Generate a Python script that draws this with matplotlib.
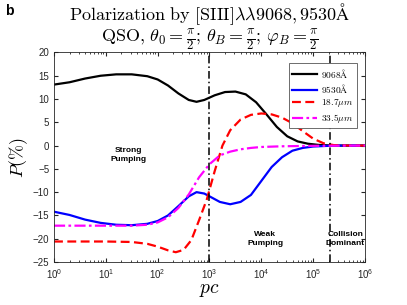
import matplotlib
matplotlib.use('Agg')
import matplotlib.pyplot as plt
import numpy as np

plt.rcParams['font.family'] = ['Liberation Sans', 'DejaVu Sans']
plt.rcParams['mathtext.fontset'] = 'cm'

# log10(pc) grid where values were read, plus P(%) for each line
log_pc_black = [0, 0.3, 0.6, 0.9, 1.2, 1.5, 1.8, 2.0, 2.2, 2.4, 2.6, 2.75, 2.9, 3.1, 3.3,
                3.5, 3.7, 3.9, 4.1, 4.3, 4.5, 4.7, 4.9, 5.1, 5.3, 5.6, 6.0]
p_9068 = [13.1, 13.6, 14.4, 15.0, 15.3, 15.3, 14.9, 14.2, 12.9, 11.2, 9.8, 9.4, 9.8, 10.8, 11.5,
          11.6, 11.0, 9.3, 6.7, 4.0, 2.0, 0.9, 0.4, 0.15, 0.05, 0.0, 0.0]

log_pc_blue = [0, 0.3, 0.6, 0.9, 1.2, 1.5, 1.8, 2.0, 2.2, 2.4, 2.6, 2.75, 2.9, 3.05, 3.2,
               3.4, 3.6, 3.8, 4.0, 4.2, 4.4, 4.6, 4.8, 5.0, 5.3, 5.6, 6.0]
p_9530 = [-14.2, -14.9, -15.9, -16.6, -17.0, -17.1, -16.8, -16.2, -15.0, -13.0, -10.9, -10.0,
          -10.3, -11.2, -12.1, -12.6, -12.1, -10.6, -7.6, -4.6, -2.5, -1.1, -0.5, -0.2, -0.05, 0.0, 0.0]

log_pc_red = [0, 0.5, 1.0, 1.5, 1.8, 2.0, 2.2, 2.35, 2.5, 2.65, 2.8, 2.95, 3.1, 3.25, 3.4,
              3.6, 3.8, 4.0, 4.2, 4.4, 4.6, 4.8, 5.0, 5.2, 5.4, 5.7, 6.0]
p_187 = [-20.6, -20.6, -20.6, -20.7, -21.1, -21.7, -22.5, -22.9, -22.4, -20.3, -16.0, -11.5,
         -5.5, 0.0, 3.3, 5.6, 6.6, 6.9, 6.7, 6.0, 4.8, 3.1, 1.5, 0.5, 0.1, 0.0, 0.0]

log_pc_mag = [0, 0.5, 1.0, 1.5, 1.8, 2.0, 2.2, 2.4, 2.6, 2.8, 3.0, 3.2, 3.4, 3.6, 3.8,
              4.0, 4.4, 5.0, 6.0]
p_335 = [-17.2, -17.2, -17.2, -17.2, -17.0, -16.5, -15.4, -13.4, -10.5, -6.8, -4.0, -2.1,
         -1.3, -0.8, -0.5, -0.3, -0.15, -0.05, 0.0]

regime_lines = [1e3, 2.1e5]
regime_labels = ['Strong\nPumping', 'Weak\nPumping', 'Collision\nDominant']
regime_label_pc = [10**1.44, 10**4.08, 10**5.62]
regime_label_p = [-2.0, -20.1, -20.1]

fig = plt.figure(figsize=(4.07, 3.05), dpi=100)
ax = fig.add_axes([0.1327, 0.141, 0.764, 0.687])

ax.plot(10**np.array(log_pc_black), p_9068, color='black', lw=1.6, label=r'$9068\mathrm{\AA}$')
ax.plot(10**np.array(log_pc_blue), p_9530, color='blue', lw=1.6, label=r'$9530\mathrm{\AA}$')
ax.plot(10**np.array(log_pc_red), p_187, color='red', lw=1.6, ls=(0, (4, 2)), label=r'$18.7\mu m$')
ax.plot(10**np.array(log_pc_mag), p_335, color='magenta', lw=1.6, ls=(0, (5, 1.5, 1.2, 1.5)),
        label=r'$33.5\mu m$')

for xv in regime_lines:
    ax.axvline(xv, color='black', lw=1.1, ls=(0, (5, 2, 1, 2)))

for lab, xv, yv in zip(regime_labels, regime_label_pc, regime_label_p):
    ax.text(xv, yv, lab, ha='center', va='center', fontsize=6, fontweight='semibold',
            linespacing=1.4)

ax.set_xscale('log')
ax.set_xlim(1, 1e6)
ax.set_ylim(-25, 20)
ax.set_yticks(range(-25, 21, 5))
ax.set_xticks([10**k for k in range(7)])

ax.tick_params(which='both', direction='in', top=True, right=True, labelsize=7,
               colors='#262626', labelcolor='#262626')
ax.tick_params(which='major', length=3)
ax.tick_params(which='minor', length=1.5)
for s in ax.spines.values():
    s.set_color('#262626')
    s.set_linewidth(0.6)

ax.set_xlabel(r'$pc$', fontsize=14, labelpad=1)
ax.set_ylabel(r'$P(\%)$', fontsize=13, labelpad=2)

ax.set_title(r'$\mathrm{Polarization\ by\ [SIII]}\lambda\lambda9068,9530\mathrm{\AA}$' + '\n' +
             r'$\mathrm{QSO},\,\theta_0=\frac{\pi}{2};\,\theta_B=\frac{\pi}{2};\,\varphi_B=\frac{\pi}{2}$',
             fontsize=13, pad=2, linespacing=1.0)

leg = ax.legend(loc='upper right', fontsize=6.8, handlelength=2.6, borderpad=0.35,
                labelspacing=0.25, handletextpad=0.5, fancybox=False, framealpha=1,
                bbox_to_anchor=(0.99, 0.97))
leg.get_frame().set_edgecolor('#555555')
leg.get_frame().set_linewidth(0.6)

fig.text(0.012, 0.965, 'b', fontsize=10, fontweight='bold', va='center')

fig.savefig('out.png', dpi=100)
